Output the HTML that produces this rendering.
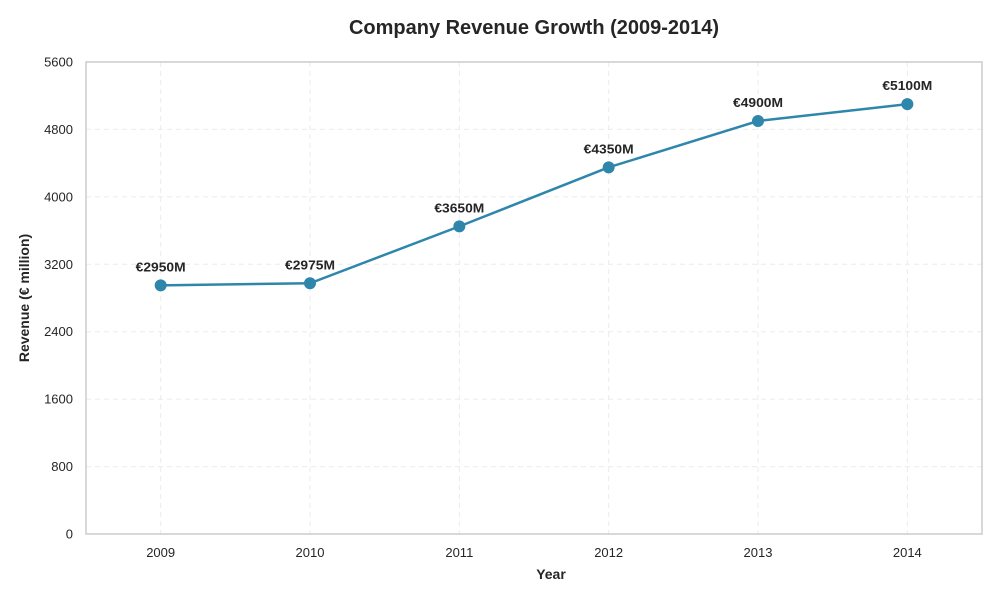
<!DOCTYPE html>
<html><head><meta charset="utf-8"><style>
html,body{margin:0;padding:0;background:#fff;}
svg{display:block;font-family:"Liberation Sans",sans-serif;}
</style></head><body>
<svg id="chart" width="1000" height="600" viewBox="0 0 1000 600">
<text x="534" y="34" text-anchor="middle" font-size="20" font-weight="bold" fill="#262626">Company Revenue Growth (2009-2014)</text>
<g id="grid"></g>
<rect x="86" y="62" width="896" height="472" fill="none" stroke="#cccccc" stroke-width="1.5"/>
<g id="yticks"></g>
<g id="xticks"></g>
<text x="551" y="579" text-anchor="middle" font-size="14" font-weight="bold" fill="#262626">Year</text>
<text transform="translate(29,298) rotate(-90)" text-anchor="middle" font-size="14" font-weight="bold" fill="#262626">Revenue (€ million)</text>
<g id="series"></g>
</svg>
<script>
const years = ["2009","2010","2011","2012","2013","2014"];
const revenue = [2950, 2975, 3650, 4350, 4900, 5100];
const yTicks = [0, 800, 1600, 2400, 3200, 4000, 4800, 5600];
const labels = ["€2950M","€2975M","€3650M","€4350M","€4900M","€5100M"];

const L=86,R=982,T=62,B=534,yMax=5600;
const xs=i=>L+(i+0.5)*(R-L)/years.length;
const ys=v=>B-v/yMax*(B-T);
const NS="http://www.w3.org/2000/svg";
function mk(tag,attrs,parent){const e=document.createElementNS(NS,tag);for(const k in attrs)e.setAttribute(k,attrs[k]);parent.appendChild(e);return e;}
const grid=document.getElementById('grid'),yt=document.getElementById('yticks'),xt=document.getElementById('xticks'),ser=document.getElementById('series');
yTicks.forEach(v=>{
  const g=mk('line',{x1:L,x2:R,y1:ys(v),y2:ys(v),stroke:'#ebebeb','stroke-dasharray':'5,4','stroke-width':1},grid);
  
  
  const t=mk('text',{x:L-13,y:ys(v)+4.5,'text-anchor':'end','font-size':13,fill:'#262626'},yt);
  t.textContent=v;
  
  
});
years.forEach((y,i)=>{
  const g=mk('line',{x1:xs(i),x2:xs(i),y1:T,y2:B,stroke:'#ebebeb','stroke-dasharray':'5,4','stroke-width':1},grid);
  
  
  const t=mk('text',{x:xs(i),y:B+23,'text-anchor':'middle','font-size':13,fill:'#262626'},xt);
  t.textContent=y;
  
  
});
const pts=revenue.map((v,i)=>xs(i)+','+ys(v)).join(' ');
const line=mk('polyline',{points:pts,fill:'none',stroke:'#2e86ab','stroke-width':2.5},ser);


revenue.forEach((v,i)=>{
  const c=mk('circle',{cx:xs(i),cy:ys(v),r:6,fill:'#2e86ab'},ser);
  
  
  const t=mk('text',{x:xs(i),y:ys(v)-14,'text-anchor':'middle','font-size':13,'font-weight':'bold',fill:'#262626',textLength:50,lengthAdjust:'spacingAndGlyphs'},ser);
  t.textContent=labels[i];
  
  
});
</script>
</body></html>
